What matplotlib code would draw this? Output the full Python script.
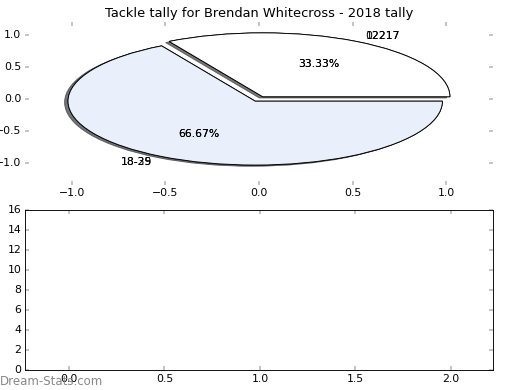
import matplotlib
matplotlib.use("Agg")
import matplotlib.pyplot as plt

plt.style.use("classic")

# Data
shares = [1, 2]
labels_first = ["12217", "18-25"]
labels_second = ["02217", "18-39"]
slice_colors = ["#ffffff", "#eaf0fb"]
explode = [0.04, 0.04]
title = "Tackle tally for Brendan Whitecross - 2018 tally"

bar_xlim = (-0.23, 2.22)
bar_ylim = (0, 16)

fig = plt.figure(figsize=(8, 6), dpi=65)
fig.patch.set_facecolor("white")

ax1 = fig.add_axes([0.048, 0.526, 0.9, 0.4176])
for labs in (labels_first, labels_second):
    ax1.pie(shares, labels=labs, colors=slice_colors, explode=explode,
            autopct="%1.2f%%", shadow=True, frame=True,
            wedgeprops=dict(edgecolor="black", linewidth=1))
ax1.set_aspect("auto")
ax1.set_frame_on(False)
ax1.set_xlim(-1.25, 1.25)
ax1.set_ylim(-1.345, 1.205)
ax1.set_xticks([-1.0, -0.5, 0.0, 0.5, 1.0])
ax1.set_yticks([-1.0, -0.5, 0.0, 0.5, 1.0])
ax1.set_title(title)

ax2 = fig.add_axes([0.048, 0.0513, 0.9, 0.4102])
ax2.set_xlim(*bar_xlim)
ax2.set_ylim(*bar_ylim)
ax2.set_xticks([0.0, 0.5, 1.0, 1.5, 2.0])
ax2.set_yticks(range(0, 17, 2))

fig.text(0.0, 0.014, "Dream-Stats.com", color="#888888", fontsize=13)

fig.savefig("out.png", dpi=65)
